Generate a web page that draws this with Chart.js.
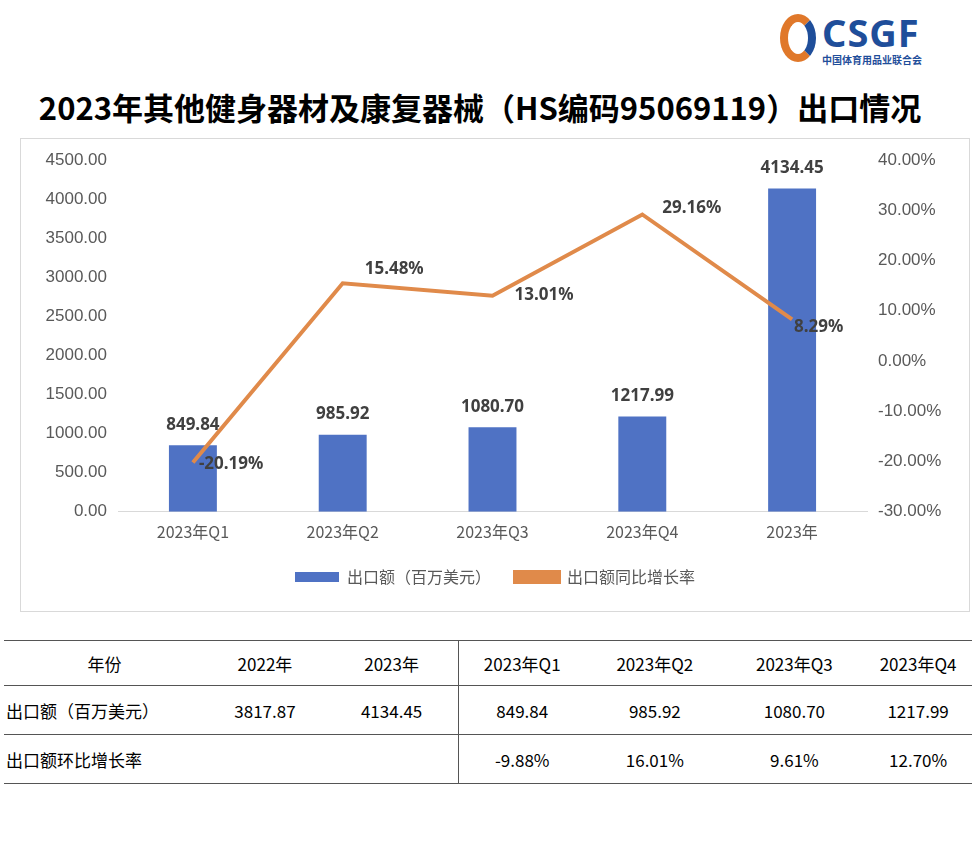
<!DOCTYPE html>
<html>
<head>
<meta charset="utf-8">
<script src="https://cdn.jsdelivr.net/npm/chart.js@4"></script>
<style>
  body { margin: 0; background: #fff; font-family: "Noto Sans CJK SC", "Noto Sans", sans-serif; }
  #page { position: relative; width: 975px; height: 853px; }
  #logo { position: absolute; left: 780px; top: 12px; width: 170px; }
  #logo .big { font: bold 38px "Noto Sans", sans-serif; color: #1f4e9a; letter-spacing: 1px; margin-left: 42px; line-height: 40px; }
  #logo .small { font-size: 10px; color: #1f4e9a; margin-left: 42px; font-weight: bold; }
  #logo .mark { position: absolute; left: 0; top: 2px; width: 36px; height: 48px; border-radius: 50%; border: 8px solid #e0782a; border-right-color: #1f4e9a; box-sizing: border-box; }
  #title { position: absolute; left: 0; width: 960px; top: 84px; text-align: center; font-size: 31px; font-weight: bold; color: #000; }
  #box { position: absolute; left: 20px; top: 138px; width: 950px; height: 474px; border: 1px solid #d9d9d9; box-sizing: border-box; }
  #tbl { position: absolute; left: 4px; top: 640px; width: 968px; border-collapse: collapse; font-size: 17px; color: #000; }
  #tbl td { border-bottom: 1px solid #555; text-align: center; height: 48px; padding: 0; }
  #tbl tr:first-child td { border-top: 1px solid #555; height: 44px; }
  #tbl td.l { text-align: left; padding-left: 2px; }
  #tbl td.sep { border-right: 1px solid #555; }
</style>
</head>
<body>
<div id="page">
  <div id="logo"><div class="mark"></div><div class="big">CSGF</div><div class="small">中国体育用品业联合会</div></div>
  <div id="title">2023年其他健身器材及康复器械（HS编码95069119）出口情况</div>
  <div id="box"><canvas id="c"></canvas></div>
  <table id="tbl"></table>
</div>
<script>
var categories = ["2023年Q1", "2023年Q2", "2023年Q3", "2023年Q4", "2023年"];
var exportValues = [849.84, 985.92, 1080.70, 1217.99, 4134.45];
var yoyRates = [-20.19, 15.48, 13.01, 29.16, 8.29];

var tableHead = ["年份", "2022年", "2023年", "2023年Q1", "2023年Q2", "2023年Q3", "2023年Q4"];
var tableRow1 = ["出口额（百万美元）", "3817.87", "4134.45", "849.84", "985.92", "1080.70", "1217.99"];
var tableRow2 = ["出口额环比增长率", "", "", "-9.88%", "16.01%", "9.61%", "12.70%"];

var widths = [200, 120, 134, 126, 140, 140, 108];
var tbl = document.getElementById("tbl");
[tableHead, tableRow1, tableRow2].forEach(function (row, r) {
  var tr = document.createElement("tr");
  row.forEach(function (t, i) {
    var td = document.createElement("td");
    td.textContent = t;
    td.style.width = widths[i] + "px";
    if (i === 0 && r > 0) td.className = "l";
    if (i === 2) td.className = "sep";
    tr.appendChild(td);
  });
  tbl.appendChild(tr);
});

// label offsets for the line points [dx, dy]
var lineLabelPos = [[6, 2], [22, -14], [22, 0], [20, -6], [2, 8]];

var labelsPlugin = {
  id: "labels",
  afterDatasetsDraw: function (chart) {
    var ctx = chart.ctx;
    ctx.save();
    ctx.font = "bold 17px 'Noto Sans', sans-serif";
    ctx.fillStyle = "#404040";
    var bars = chart.getDatasetMeta(0).data;
    ctx.textAlign = "center";
    ctx.textBaseline = "bottom";
    bars.forEach(function (b, i) {
      ctx.fillText(exportValues[i].toFixed(2), b.x, b.y - 12);
    });
    var pts = chart.getDatasetMeta(1).data;
    ctx.textAlign = "left";
    ctx.textBaseline = "middle";
    pts.forEach(function (p, i) {
      var o = lineLabelPos[i];
      ctx.fillText(yoyRates[i].toFixed(2) + "%", p.x + o[0], p.y + o[1]);
    });
    ctx.restore();
  }
};

new Chart(document.getElementById("c"), {
  type: "bar",
  data: {
    labels: categories,
    datasets: [
      { label: "出口额（百万美元）", data: exportValues, backgroundColor: "#4f72c4", yAxisID: "y", barPercentage: 0.32, categoryPercentage: 1, order: 2 },
      { label: "出口额同比增长率", type: "line", data: yoyRates, borderColor: "#e08a4a", backgroundColor: "#e08a4a", borderWidth: 4, pointRadius: 0, tension: 0, yAxisID: "y1", order: 1 }
    ]
  },
  options: {
    responsive: true,
    maintainAspectRatio: false,
    animation: false,
    layout: { padding: { top: 21, right: 0, left: 0, bottom: 16 } },
    plugins: {
      legend: {
        position: "bottom",
        labels: {
          font: { size: 16, family: "Noto Sans CJK SC" }, color: "#595959", boxWidth: 44, boxHeight: 10, padding: 24,
          sort: function (a, b) { return a.datasetIndex - b.datasetIndex; }
        }
      },
      tooltip: { enabled: false }
    },
    scales: {
      x: {
        grid: { display: false },
        border: { color: "#d9d9d9" },
        ticks: { font: { size: 16, family: "Noto Sans CJK SC" }, color: "#595959" }
      },
      y: {
        min: 0, max: 4500,
        ticks: { stepSize: 500, callback: function (v) { return v.toFixed(2); }, font: { size: 17 }, color: "#595959" },
        grid: { display: false },
        border: { display: false },
        afterFit: function (s) { s.width = 97; }
      },
      y1: {
        position: "right",
        min: -30, max: 40,
        ticks: { stepSize: 10, callback: function (v) { return v.toFixed(2) + "%"; }, font: { size: 17 }, color: "#595959" },
        grid: { display: false },
        border: { display: false },
        afterFit: function (s) { s.width = 102; }
      }
    }
  },
  plugins: [labelsPlugin]
});
</script>
</body>
</html>
